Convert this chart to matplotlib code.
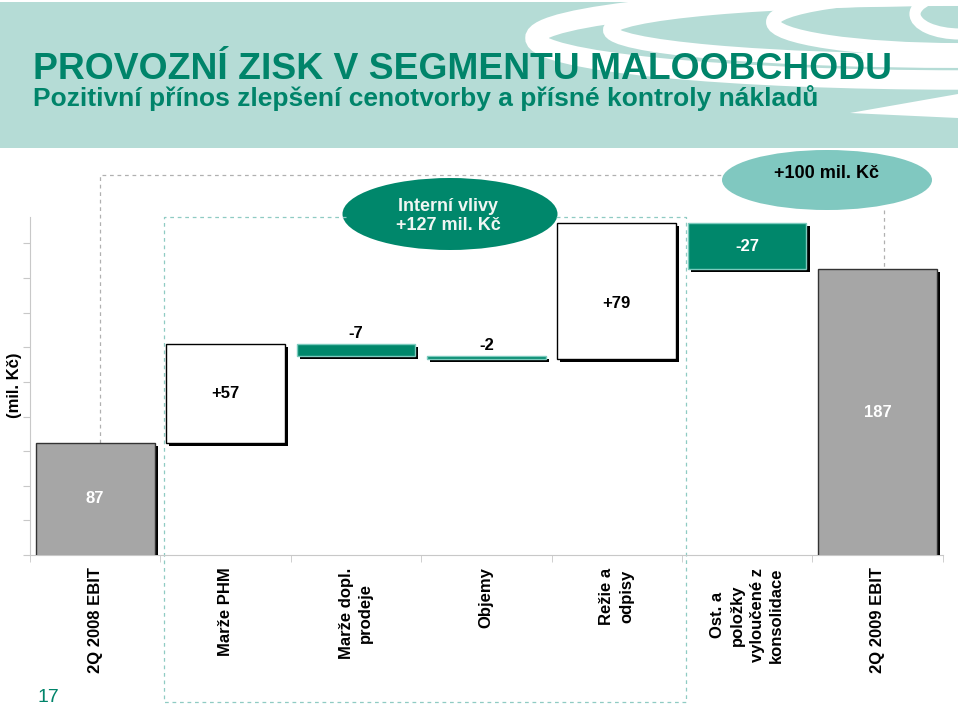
import matplotlib
matplotlib.use('Agg')
import matplotlib.pyplot as plt
import matplotlib.patches as mpatches
import matplotlib.patheffects as pe
import matplotlib.font_manager as fm
import numpy as np

# data
categories = ['2Q 2008 EBIT', 'Marže PHM', 'Marže dopl.\nprodeje', 'Objemy',
              'Režie a\nodpisy', 'Ost. a\npoložky\nvyloučené z\nkonsolidace',
              '2Q 2009 EBIT']
start_value = 87
deltas = [57, -7, -2, 79, -27]
end_value = 187
delta_labels = ['+57', '-7', '-2', '+79', '-27']
internal_label = 'Interní vlivy\n+127 mil. Kč'
total_label = '+100 mil. Kč'
title = 'PROVOZNÍ ZISK V SEGMENTU MALOOBCHODU'
subtitle = 'Pozitivní přínos zlepšení cenotvorby a přísné kontroly nákladů'
ylabel = '(mil. Kč)'
page_no = '17'

GREEN = '#00876B'
DARK = '#00846A'
LIGHT_TEAL = '#80C8C0'
HEADER = '#B5DCD6'
GRAY = '#A6A6A6'

names = {f.name for f in fm.fontManager.ttflist}
NARROW = 'Liberation Sans Narrow' in names
plt.rcParams['font.family'] = ['Liberation Sans', 'DejaVu Sans']

fig = plt.figure(figsize=(9.6, 7.1), dpi=100)

# pixel overlay for the slide decoration
bg = fig.add_axes([0, 0, 1, 1], zorder=0)
bg.set_xlim(0, 960)
bg.set_ylim(710, 0)
bg.axis('off')

hdr = mpatches.Rectangle((0, 2), 958, 146, facecolor=HEADER, edgecolor='none')
bg.add_patch(hdr)
swooshes = [((960, 38), 850, 84, 14), ((960, 30), 700, 62, 10),
            ((960, 22), 374, 56, 10), ((960, 14), 90, 40, 8)]
for (c, w, h, lw) in swooshes:
    a = mpatches.Arc(c, w, h, theta1=90, theta2=270, color='white', lw=lw)
    bg.add_patch(a)
    a.set_clip_path(hdr)
tail = mpatches.Polygon([(850, 113), (958, 94), (958, 118)], closed=True,
                        facecolor='white', edgecolor='none')
bg.add_patch(tail)

if NARROW:
    bg.text(33, 80, title, fontsize=32, fontweight='bold', color=DARK,
            family='Liberation Sans Narrow')
else:
    bg.text(33, 79, title, fontsize=26.8, fontweight='bold', color=DARK)
bg.text(33, 106, subtitle, fontsize=19, fontweight='bold', color=DARK)

bg.add_patch(mpatches.Ellipse((450, 214), 215, 72, facecolor=GREEN, edgecolor='none'))
bg.text(448, 216, internal_label, ha='center', va='center', color='#F0F6F3',
        fontsize=13, fontweight='bold', linespacing=1.15)
bg.add_patch(mpatches.Ellipse((827, 180), 210, 60, facecolor=LIGHT_TEAL, edgecolor='none'))
bg.text(827, 174, total_label, ha='center', va='center', color='black',
        fontsize=13, fontweight='bold')

bg.text(15, 385, ylabel, rotation=90, ha='center', va='center',
        fontsize=12, fontweight='bold')
bg.text(48, 697, page_no, ha='center', va='center', color=DARK, fontsize=14,
        family='Liberation Sans Narrow' if NARROW else 'Liberation Sans')

# waterfall
ax = fig.add_axes([30 / 960, 155 / 710, 912.7 / 960, 338 / 710], zorder=1)
ax.patch.set_alpha(0)

levels = start_value + np.concatenate([[0], np.cumsum(deltas)])
d = np.array(deltas)
bottoms = np.minimum(levels[:-1], levels[1:])
heights = np.abs(d)
xs = np.arange(1, len(deltas) + 1)
W = 0.91
shadow = [pe.SimplePatchShadow(offset=(2.2, -2.2), shadow_rgbFace='black', alpha=1), pe.Normal()]

totals = ax.bar([0, len(categories) - 1], [start_value, end_value], width=W,
                color=GRAY, edgecolor='#333333', lw=1, zorder=3)
steps = ax.bar(xs, heights, bottom=bottoms, width=W,
               color=[('white' if v > 0 else GREEN) for v in d],
               edgecolor=[('black' if v > 0 else '#7CCBBE') for v in d],
               lw=1, zorder=3)
for b in list(totals) + list(steps):
    b.set_path_effects(shadow)

ax.set_xlim(-0.5, len(categories) - 0.5)
ax.set_ylim(22, 217.3)

# labels
lo = ax.get_ylim()[0]
ax.text(0, (lo + start_value) / 2, str(start_value), ha='center', va='center',
        color='white', fontsize=12, fontweight='bold', zorder=5)
ax.text(len(categories) - 1, (lo + end_value) / 2, str(end_value), ha='center',
        va='center', color='white', fontsize=12, fontweight='bold', zorder=5)
for i, (x, b, h, v, t) in enumerate(zip(xs, bottoms, heights, d, delta_labels)):
    if h < 10:
        ax.annotate(t, (x, b + h), xytext=(0, 2), textcoords='offset points',
                    ha='center', va='bottom', fontsize=12, fontweight='bold')
    else:
        dy = -9 if t == '+79' else 0
        ax.annotate(t, (x, b + h / 2), xytext=(0, dy), textcoords='offset points',
                    ha='center', va='center', fontsize=12, fontweight='bold',
                    color='black' if v > 0 else 'white', zorder=5)

# dashed guides
ax.plot([0.04, 0.04, 4.81], [start_value, 241.5, 241.5], ls=(0, (3, 3)),
        color='#B0B0B0', lw=0.9, clip_on=False, zorder=1)
ax.plot([6.05, 6.05], [221.3, end_value], ls=(0, (3, 3)), color='#B0B0B0',
        lw=0.9, clip_on=False, zorder=1)
ax.plot([1.92, 0.53, 0.53, 4.53, 4.53, 3.53],
        [217.3, 217.3, -62.8, -62.8, 217.3, 217.3], ls=(0, (3, 3)),
        color='#8FCBC3', lw=0.9, clip_on=False, zorder=1)

for s in ['top', 'right']:
    ax.spines[s].set_visible(False)
ax.spines['left'].set_color('#C8C8C8')
ax.spines['bottom'].set_color('#C8C8C8')
ax.set_yticks(np.arange(22, 210, 20))
ax.tick_params(axis='y', length=5, color='#C8C8C8', labelleft=False)
ax.set_xticks(np.arange(len(categories)), categories, rotation=90,
              fontsize=12, fontweight='bold', linespacing=1.4)
ax.set_xticks(np.arange(-0.5, len(categories)), minor=True)
ax.tick_params(axis='x', which='major', length=0, pad=9)
ax.tick_params(axis='x', which='minor', length=5, color='#C8C8C8')

fig.savefig('out.png', dpi=100)
